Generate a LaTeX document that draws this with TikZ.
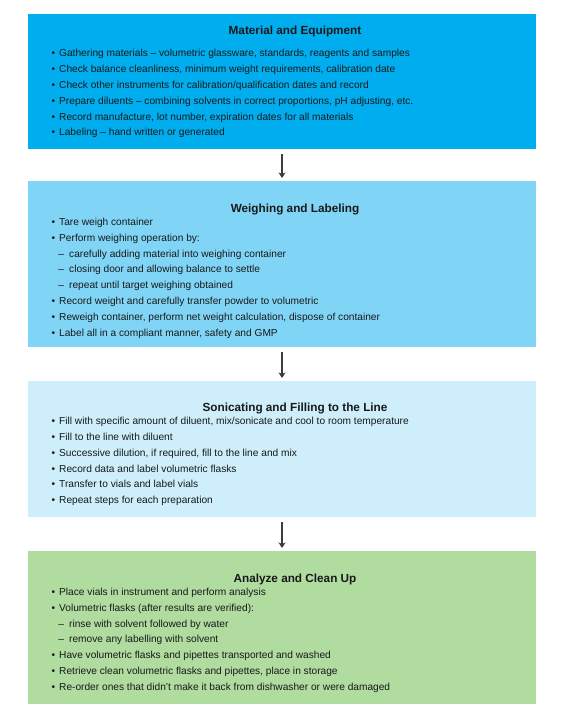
\documentclass[tikz,border=0pt]{standalone}
\usepackage{fontspec}
\setmainfont{Liberation Sans}
\usetikzlibrary{arrows.meta}
\definecolor{cA}{RGB}{0,174,239}
\definecolor{cB}{RGB}{128,213,246}
\definecolor{cC}{RGB}{205,238,250}
\definecolor{cD}{RGB}{176,220,160}
\definecolor{ink}{RGB}{25,25,25}
\newcommand\bl{\makebox[7.5bp][l]{\textbullet}}
\newcommand\dl{\hspace*{6.8bp}\makebox[10.7bp][l]{–}}
\tikzset{
  box/.style={rectangle, draw=none, minimum width=508bp, inner sep=0pt, outer sep=0pt},
  ttl/.style={anchor=base, inner sep=0pt, font=\fontsize{11.8}{13}\selectfont\bfseries, text=ink},
  itm/.style={anchor=base west, inner sep=0pt, font=\fontsize{10.2}{12}\selectfont, text=ink},
  flow/.style={-{Stealth[length=5.5bp,width=7bp,inset=1.5bp]}, line width=1.2bp, draw=ink!85, shorten <=4.5bp, shorten >=3bp}
}
\begin{document}
\begin{tikzpicture}[x=1bp,y=-1bp]
\useasboundingbox (0,0) rectangle (586,710);
\node[box, fill=cA, minimum height=135bp] (b1) at (282,81.5) {};
\node[box, fill=cB, minimum height=166bp] (b2) at (282,264) {};
\node[box, fill=cC, minimum height=136bp] (b3) at (282,449) {};
\node[box, fill=cD, minimum height=153bp] (b4) at (282,627.5) {};
\node[ttl] (t1) at (295,35) {Material and Equipment};
\node[ttl] (t2) at (295,212) {Weighing and Labeling};
\node[ttl] (t3) at (295,411) {Sonicating and Filling to the Line};
\node[ttl] (t4) at (295,582) {Analyze and Clean Up};
\foreach \t [count=\i from 0] in {
  {\bl Gathering materials – volumetric glassware, standards, reagents and samples},
  {\bl Check balance cleanliness, minimum weight requirements, calibration date},
  {\bl Check other instruments for calibration/qualification dates and record},
  {\bl Prepare diluents – combining solvents in correct proportions, pH adjusting, etc.},
  {\bl Record manufacture, lot number, expiration dates for all materials},
  {\bl Labeling – hand written or generated}}
  \node[itm] (a\i) at (51.5,57+15.8*\i) {\t};
\foreach \t [count=\i from 0] in {
  {\bl Tare weigh container},
  {\bl Perform weighing operation by:},
  {\dl carefully adding material into weighing container},
  {\dl closing door and allowing balance to settle},
  {\dl repeat until target weighing obtained},
  {\bl Record weight and carefully transfer powder to volumetric},
  {\bl Reweigh container, perform net weight calculation, dispose of container},
  {\bl Label all in a compliant manner, safety and GMP}}
  \node[itm] (w\i) at (51.5,225.4+15.8*\i) {\t};
\foreach \t [count=\i from 0] in {
  {\bl Fill with specific amount of diluent, mix/sonicate and cool to room temperature},
  {\bl Fill to the line with diluent},
  {\bl Successive dilution, if required, fill to the line and mix},
  {\bl Record data and label volumetric flasks},
  {\bl Transfer to vials and label vials},
  {\bl Repeat steps for each preparation}}
  \node[itm] (s\i) at (51.5,424.7+15.8*\i) {\t};
\foreach \t [count=\i from 0] in {
  {\bl Place vials in instrument and perform analysis},
  {\bl Volumetric flasks (after results are verified):},
  {\dl rinse with solvent followed by water},
  {\dl remove any labelling with solvent},
  {\bl Have volumetric flasks and pipettes transported and washed},
  {\bl Retrieve clean volumetric flasks and pipettes, place in storage},
  {\bl Re-order ones that didn’t make it back from dishwasher or were damaged}}
  \node[itm] (c\i) at (51.5,595.4+15.8*\i) {\t};
\draw[flow] (b1.south) -- (b2.north);
\draw[flow] (b2.south) -- (b3.north);
\draw[flow] (b3.south) -- (b4.north);
\end{tikzpicture}
\end{document}
